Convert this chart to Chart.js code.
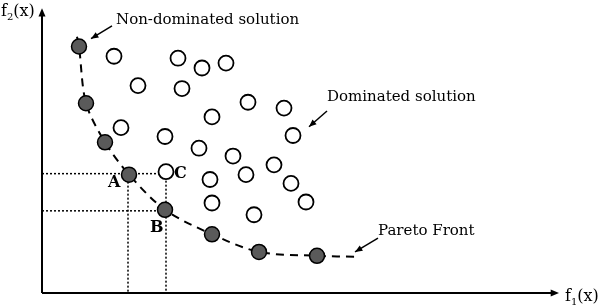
<!DOCTYPE html>
<html>
<head>
<meta charset="utf-8">
<script src="https://cdn.jsdelivr.net/npm/chart.js@4.4.0/dist/chart.umd.min.js"></script>
<style>
  html, body { margin: 0; padding: 0; background: #fff; }
  #wrap { width: 598px; height: 306px; }
</style>
</head>
<body>
<div id="wrap"><canvas id="chart"></canvas></div>
<script>
// non-dominated (Pareto) solutions
const ndX = [37, 44, 63, 87, 123, 170, 217, 275];
const ndY = [252, 194, 154, 121, 85, 60, 42, 38];

// dominated solutions
const domX = [72, 136, 160, 184, 96, 140, 206, 242, 170, 79, 251, 123, 157, 191, 232, 124, 168, 204, 249, 170, 264, 212];
const domY = [242, 240, 230, 235, 212, 209, 195, 189, 180, 169, 161, 160, 148, 140, 131, 124, 116, 121, 112, 92, 93, 80];

// dashed front curve
const frontX = [35, 37, 44, 63, 87, 123, 170, 217, 275, 315];
const frontY = [262, 252, 194, 154, 121, 85, 60, 42, 38, 37];

// dotted guides for A / B / C
const guideA_h = [{x: 0, y: 122}, {x: 124, y: 122}];
const guideA_v = [{x: 86, y: 122}, {x: 86, y: 0}];
const guideB_h = [{x: 0, y: 84}, {x: 123, y: 84}];
const guideC_v = [{x: 124, y: 123}, {x: 124, y: 0}];

const zip = (xs, ys) => xs.map((x, i) => ({x: x, y: ys[i]}));

const SERIF = "'DejaVu Serif', 'Liberation Serif', serif";

function arrowHead(ctx, x1, y1, x2, y2, size) {
    const a = Math.atan2(y2 - y1, x2 - x1);
    ctx.beginPath();
    ctx.moveTo(x2, y2);
    ctx.lineTo(x2 - size * Math.cos(a - 0.4), y2 - size * Math.sin(a - 0.4));
    ctx.lineTo(x2 - size * Math.cos(a + 0.4), y2 - size * Math.sin(a + 0.4));
    ctx.closePath();
    ctx.fill();
}

const decorations = {
    id: "decorations",
    afterDatasetsDraw(chart) {
        const ctx = chart.ctx;
        const sx = chart.scales.x, sy = chart.scales.y;
        const px = v => sx.getPixelForValue(v);
        const py = v => sy.getPixelForValue(v);
        ctx.save();
        ctx.strokeStyle = "#000";
        ctx.fillStyle = "#000";
        ctx.setLineDash([]);

        // axes
        ctx.lineWidth = 2;
        ctx.beginPath();
        ctx.moveTo(px(0), py(0));
        ctx.lineTo(px(0), py(284));
        ctx.moveTo(px(0), py(0));
        ctx.lineTo(px(510), py(0));
        ctx.stroke();
        arrowHead(ctx, px(0), py(0), px(0), py(291), 9);
        arrowHead(ctx, px(0), py(0), px(517), py(0), 9);

        // annotation arrows
        ctx.lineWidth = 1.5;
        const arrows = [
            [70, 273, 49, 260],
            [285, 186, 267, 170],
            [336, 56, 313, 42]
        ];
        arrows.forEach(a => {
            ctx.beginPath();
            ctx.moveTo(px(a[0]), py(a[1]));
            ctx.lineTo(px(a[2]), py(a[3]));
            ctx.stroke();
            arrowHead(ctx, px(a[0]), py(a[1]), px(a[2]), py(a[3]), 8);
        });

        // labels
        ctx.textBaseline = "middle";
        ctx.textAlign = "left";
        ctx.font = "15px " + SERIF;
        ctx.fillText("Non-dominated solution", px(74), py(279));
        ctx.fillText("Dominated solution", px(285), py(200));
        ctx.fillText("Pareto Front", px(336), py(63));

        ctx.font = "bold 16px " + SERIF;
        ctx.fillText("A", px(66), py(113));
        ctx.fillText("B", px(108), py(67));
        ctx.fillText("C", px(132), py(122));

        // axis titles
        ctx.font = "16px " + SERIF;
        let x = 1;
        ctx.fillText("f", x, 12);
        x += ctx.measureText("f").width;
        ctx.font = "10px " + SERIF;
        ctx.fillText("2", x, 17);
        x += ctx.measureText("2").width;
        ctx.font = "16px " + SERIF;
        ctx.fillText("(x)", x, 12);

        x = 565;
        ctx.fillText("f", x, 297);
        x += ctx.measureText("f").width;
        ctx.font = "10px " + SERIF;
        ctx.fillText("1", x, 302);
        x += ctx.measureText("1").width;
        ctx.font = "16px " + SERIF;
        ctx.fillText("(x)", x, 297);
        ctx.restore();
    }
};

const guide = data => ({
    type: "line",
    data: data,
    borderColor: "#000",
    borderWidth: 1.5,
    borderDash: [2, 2],
    pointRadius: 0,
    fill: false,
    order: 3
});

new Chart(document.getElementById("chart"), {
    type: "scatter",
    data: {
        datasets: [
            guide(guideA_h),
            guide(guideA_v),
            guide(guideB_h),
            guide(guideC_v),
            {
                type: "line",
                data: zip(frontX, frontY),
                borderColor: "#000",
                borderWidth: 2,
                borderDash: [8, 6],
                tension: 0.3,
                pointRadius: 0,
                fill: false,
                order: 2
            },
            {
                data: zip(domX, domY),
                backgroundColor: "#fff",
                borderColor: "#000",
                borderWidth: 1.8,
                pointRadius: 7.5,
                order: 1
            },
            {
                data: zip(ndX, ndY),
                backgroundColor: "#5a5a5a",
                borderColor: "#000",
                borderWidth: 1.5,
                pointRadius: 7.5,
                order: 0
            }
        ]
    },
    options: {
        responsive: true,
        maintainAspectRatio: false,
        animation: false,
        layout: { padding: { left: 42, right: 40, top: 3, bottom: 13 } },
        scales: {
            x: { type: "linear", min: 0, max: 516, display: false },
            y: { type: "linear", min: 0, max: 290, display: false }
        },
        plugins: {
            legend: { display: false },
            tooltip: { enabled: false }
        }
    },
    plugins: [decorations]
});
</script>
</body>
</html>
